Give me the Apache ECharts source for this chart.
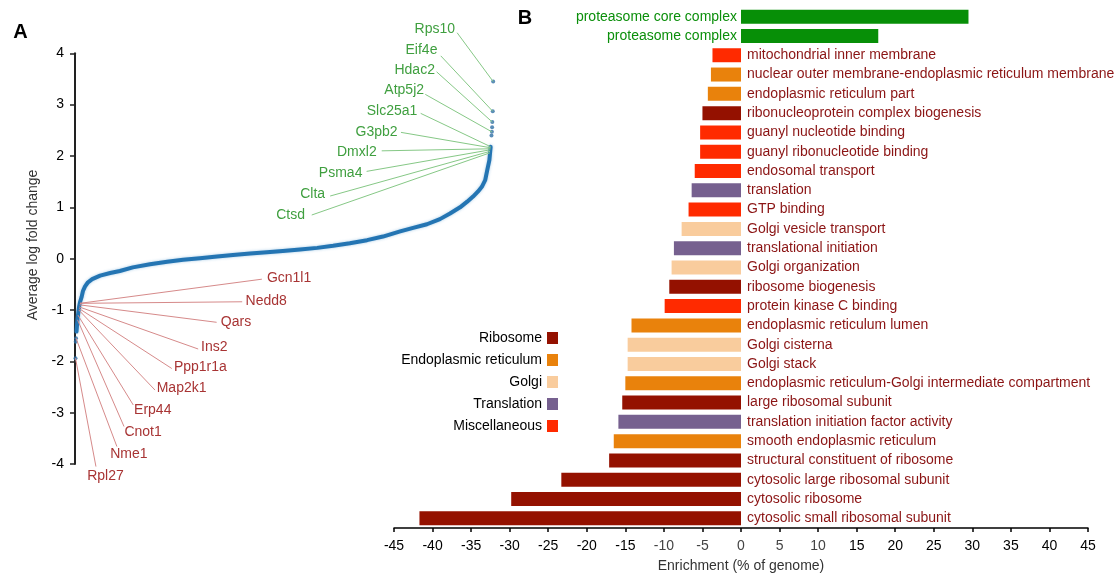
<!DOCTYPE html>
<html>
<head>
<meta charset="utf-8">
<script src="https://cdn.jsdelivr.net/npm/echarts@6/dist/echarts.min.js"></script>
<style>
  html, body { margin: 0; padding: 0; background: #fff; }
  #main { width: 1120px; height: 578px; }
</style>
</head>
<body>
<div id="main"></div>
<script>
// ---------- Panel A: genes ranked by average log fold change ----------
// x = rank of the gene (percent of all quantified genes), y = average log fold change
const curveRank = [0.36, 0.48, 0.6, 0.79, 0.95, 1.19, 1.6, 1.9, 2.4, 3.1, 4.1, 6.0, 8.4, 10.7, 13.8, 17.9,
  22.0, 25.8, 29.8, 33.9, 37.7, 41.8, 45.8, 49.6, 53.7, 57.8, 61.6, 65.6, 69.7, 73.5, 77.6, 80.7,
  84.0, 87.1, 89.5, 91.9, 93.6, 95.0, 96.2, 97.1, 97.9, 98.4, 98.9, 99.2];
const curveFC = [-1.42, -1.30, -1.18, -1.05, -0.95, -0.85, -0.74, -0.63, -0.54, -0.46, -0.40, -0.33, -0.28,
  -0.24, -0.17, -0.11, -0.06, -0.02, 0.01, 0.04, 0.07, 0.10, 0.125, 0.15, 0.18, 0.21, 0.25, 0.30, 0.36,
  0.43, 0.53, 0.60, 0.67, 0.77, 0.88, 1.0, 1.11, 1.21, 1.31, 1.40, 1.53, 1.73, 1.92, 2.18];
const tailRank = [0.12, 0.17, 0.24, 99.4, 99.5, 99.55, 99.6, 99.7, 99.8];
const tailFC = [-1.94, -1.62, -1.55, 2.40, 2.47, 2.56, 2.66, 2.87, 3.45];

// labelled genes (up-regulated, green)
const upGenes = ['Rps10', 'Eif4e', 'Hdac2', 'Atp5j2', 'Slc25a1', 'G3pb2', 'Dmxl2', 'Psma4', 'Clta', 'Ctsd'];
const upRank = [99.8, 99.7, 99.6, 99.5, 99.2, 99.2, 99.15, 99.1, 99.05, 99.0];
const upFC = [3.45, 2.87, 2.66, 2.47, 2.18, 2.16, 2.14, 2.12, 2.09, 2.06];
// labelled genes (down-regulated, red)
const downGenes = ['Gcn1l1', 'Nedd8', 'Qars', 'Ins2', 'Ppp1r1a', 'Map2k1', 'Erp44', 'Cnot1', 'Nme1', 'Rpl27'];
const downRank = [1.19, 1.19, 1.1, 1.0, 0.95, 0.9, 0.7, 0.6, 0.24, 0.12];
const downFC = [-0.87, -0.87, -0.90, -0.94, -0.97, -1.0, -1.10, -1.19, -1.55, -1.94];

// ---------- Panel B: enriched GO terms ----------
const terms = [
  'proteasome core complex', 'proteasome complex', 'mitochondrial inner membrane',
  'nuclear outer membrane-endoplasmic reticulum membrane', 'endoplasmic reticulum part',
  'ribonucleoprotein complex biogenesis', 'guanyl nucleotide binding', 'guanyl ribonucleotide binding',
  'endosomal transport', 'translation', 'GTP binding', 'Golgi vesicle transport',
  'translational initiation', 'Golgi organization', 'ribosome biogenesis', 'protein kinase C binding',
  'endoplasmic reticulum lumen', 'Golgi cisterna', 'Golgi stack',
  'endoplasmic reticulum-Golgi intermediate compartment', 'large ribosomal subunit',
  'translation initiation factor activity', 'smooth endoplasmic reticulum',
  'structural constituent of ribosome', 'cytosolic large ribosomal subunit', 'cytosolic ribosome',
  'cytosolic small ribosomal subunit'
];
const enrichment = [29.5, 17.8, -3.7, -3.9, -4.3, -5.0, -5.3, -5.3, -6.0, -6.4, -6.8, -7.7, -8.7, -9.0,
  -9.3, -9.9, -14.2, -14.7, -14.7, -15.0, -15.4, -15.9, -16.5, -17.1, -23.3, -29.8, -41.7];
const termGroup = ['Proteasome', 'Proteasome', 'Miscellaneous', 'Endoplasmic reticulum',
  'Endoplasmic reticulum', 'Ribosome', 'Miscellaneous', 'Miscellaneous', 'Miscellaneous', 'Translation',
  'Miscellaneous', 'Golgi', 'Translation', 'Golgi', 'Ribosome', 'Miscellaneous', 'Endoplasmic reticulum',
  'Golgi', 'Golgi', 'Endoplasmic reticulum', 'Ribosome', 'Translation', 'Endoplasmic reticulum',
  'Ribosome', 'Ribosome', 'Ribosome', 'Ribosome'];
const legendGroups = ['Ribosome', 'Endoplasmic reticulum', 'Golgi', 'Translation', 'Miscellaneous'];

// ---------- styling / layout ----------
const FONT = '"Liberation Sans", Arial, Helvetica, sans-serif';
const groupColor = {
  'Proteasome': '#078f07',
  'Ribosome': '#941100',
  'Endoplasmic reticulum': '#e9820c',
  'Golgi': '#f9cc9d',
  'Translation': '#76608f',
  'Miscellaneous': '#ff2a00'
};
// where each gene name sits and where its leader line leaves it (axis units)
const upLineFrom = [[91.2, 4.40], [87.3, 3.95], [86.3, 3.64], [83.6, 3.20], [82.5, 2.83],
  [77.8, 2.46], [73.2, 2.10], [69.6, 1.70], [60.9, 1.22], [56.5, 0.85]];
const upTextAt = [[90.7, 4.47], [86.5, 4.07], [85.9, 3.67], [83.3, 3.28], [81.7, 2.87],
  [77.0, 2.46], [72.0, 2.07], [68.6, 1.66], [59.7, 1.26], [54.9, 0.85]];
const downLineFrom = [[44.6, -0.40], [39.9, -0.84], [33.8, -1.24], [29.4, -1.76], [23.1, -2.14],
  [19.1, -2.56], [13.9, -2.85], [11.7, -3.27], [10.0, -3.66], [5.0, -4.05]];
const downTextAt = [[45.8, -0.38], [40.7, -0.82], [34.8, -1.24], [30.1, -1.73], [23.6, -2.11],
  [19.5, -2.53], [14.1, -2.95], [11.8, -3.38], [8.4, -3.81], [2.9, -4.24]];

function annotationSeries(names, rank, fc, lineFrom, textAt, textColor, lineColor, align) {
  return {
    type: 'custom',
    xAxisIndex: 0, yAxisIndex: 0,
    clip: false, silent: true, z: 5,
    data: names.map((n, i) => [rank[i], fc[i], lineFrom[i][0], lineFrom[i][1], textAt[i][0], textAt[i][1]]),
    renderItem: function (params, api) {
      const t = api.coord([api.value(0), api.value(1)]);
      const e = api.coord([api.value(2), api.value(3)]);
      const l = api.coord([api.value(4), api.value(5)]);
      return {
        type: 'group',
        children: [
          { type: 'line', shape: { x1: e[0], y1: e[1], x2: t[0], y2: t[1] },
            style: { stroke: lineColor, lineWidth: 1 } },
          { type: 'text', x: l[0], y: l[1],
            style: { text: names[params.dataIndex], fill: textColor, font: '14px ' + FONT,
                     align: align, verticalAlign: 'middle' } }
        ]
      };
    }
  };
}

const barSeries = ['Proteasome'].concat(legendGroups).map(g => ({
  type: 'bar',
  name: g,
  xAxisIndex: 1, yAxisIndex: 1,
  barWidth: 14,
  barGap: '-100%',
  itemStyle: { color: groupColor[g] },
  data: terms.map((t, i) => termGroup[i] === g ? {
    value: enrichment[i],
    label: {
      position: enrichment[i] < 0 ? 'right' : 'left',
      distance: enrichment[i] < 0 ? 6 : 4,
      color: g === 'Proteasome' ? '#0b8f0b' : '#8b1414'
    }
  } : '-'),
  label: {
    show: true,
    fontSize: 14,
    fontFamily: FONT,
    formatter: p => terms[p.dataIndex]
  }
}));

const chart = echarts.init(document.getElementById('main'), null, { renderer: 'canvas' });
chart.setOption({
  animation: false,
  backgroundColor: '#fff',
  graphic: [
    { type: 'text', x: 20.5, y: 32.5, style: { text: 'A', font: 'bold 20px ' + FONT, fill: '#000', align: 'center', verticalAlign: 'middle' } },
    { type: 'text', x: 525, y: 18, style: { text: 'B', font: 'bold 20px ' + FONT, fill: '#000', align: 'center', verticalAlign: 'middle' } },
    { type: 'text', x: 33, y: 245, rotation: Math.PI / 2,
      style: { text: 'Average log fold change', font: '14px ' + FONT, fill: '#333', align: 'center', verticalAlign: 'middle' } }
  ],
  legend: {
    data: legendGroups,
    orient: 'vertical',
    align: 'right',
    right: 562,
    top: 326,
    itemWidth: 11,
    itemHeight: 12,
    itemGap: 8,
    icon: 'rect',
    selectedMode: false,
    padding: [5, 0, 5, 5],
    textStyle: { fontSize: 14, fontFamily: FONT, color: '#000' }
  },
  grid: [
    { left: 75, top: 53.3, width: 419, height: 410.7 },
    { left: 394, right: 32, top: 7, bottom: 46 }
  ],
  xAxis: [
    { gridIndex: 0, type: 'value', min: 0, max: 100, show: false },
    {
      gridIndex: 1, type: 'value', min: -45, max: 45, interval: 5,
      name: 'Enrichment (% of genome)', nameLocation: 'middle', nameGap: 31,
      nameTextStyle: { fontSize: 14, fontFamily: FONT, color: '#333' },
      axisLine: { show: true, onZero: false, lineStyle: { color: '#000', width: 1.5 } },
      axisTick: { show: true, length: 4, lineStyle: { color: '#000', width: 1.5 } },
      axisLabel: {
        fontSize: 14, fontFamily: FONT, margin: 11,
        color: v => (Math.abs(v) <= 10 ? '#444' : '#000')
      },
      splitLine: { show: false }
    }
  ],
  yAxis: [
    {
      gridIndex: 0, type: 'value', min: -4, max: 4, interval: 1,
      axisLine: { show: true, lineStyle: { color: '#222', width: 2 } },
      axisTick: { show: true, length: 5, lineStyle: { color: '#222', width: 1.5 } },
      axisLabel: { fontSize: 14, fontFamily: FONT, color: '#000', margin: 11 },
      splitLine: { show: false }
    },
    {
      gridIndex: 1, type: 'category', inverse: true, data: terms,
      axisLine: { show: false }, axisTick: { show: false }, axisLabel: { show: false },
      splitLine: { show: false }
    }
  ],
  series: [
    {
      type: 'line',
      xAxisIndex: 0, yAxisIndex: 0,
      data: curveRank.map((r, i) => [r, curveFC[i]]),
      showSymbol: false,
      symbol: 'none',
      lineStyle: { color: '#2475b3', width: 4, cap: 'round', join: 'round',
                   shadowColor: 'rgba(60,140,200,0.45)', shadowBlur: 3 },
      z: 3
    },
    {
      type: 'scatter',
      xAxisIndex: 0, yAxisIndex: 0,
      data: tailRank.map((r, i) => [r, tailFC[i]]),
      symbolSize: 4,
      itemStyle: { color: '#2f6fa5' },
      z: 4
    },
    annotationSeries(upGenes, upRank, upFC, upLineFrom, upTextAt, '#3f9f3f', '#86c886', 'right'),
    annotationSeries(downGenes, downRank, downFC, downLineFrom, downTextAt, '#a83434', '#d68a8a', 'left')
  ].concat(barSeries)
});
</script>
</body>
</html>
